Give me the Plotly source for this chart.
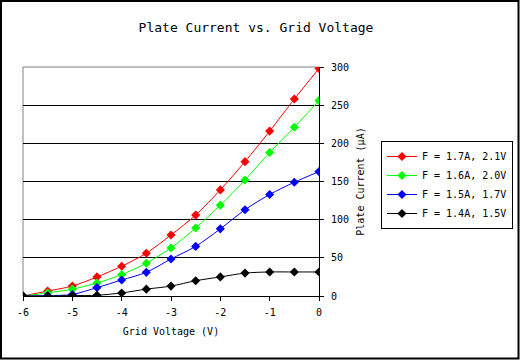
import plotly.graph_objects as go

grid_voltage = [-6, -5.5, -5, -4.5, -4, -3.5, -3, -2.5, -2, -1.5, -1, -0.5, 0]
series_names = ["F = 1.7A, 2.1V", "F = 1.6A, 2.0V", "F = 1.5A, 1.7V", "F = 1.4A, 1.5V"]
current_17A = [0, 6.5, 13, 25, 39, 56, 80, 106, 139, 176, 216, 258, 298]
current_16A = [0, 4, 9, 17, 28, 43, 63, 89, 119, 152, 188, 221, 256]
current_15A = [0, 0.5, 2, 11, 21, 31, 48.5, 65, 88, 113, 133, 149, 163]
current_14A = [0, 0, 0.5, 1, 4, 9, 13, 20, 25, 30, 31.5, 31.5, 31.5]
series_values = [current_17A, current_16A, current_15A, current_14A]
colors = ["#ff0000", "#00ff00", "#0000ff", "#000000"]
x_ticks = [-6, -5, -4, -3, -2, -1, 0]
y_ticks = [0, 50, 100, 150, 200, 250, 300]

FONT = "DejaVu Sans Mono"

fig = go.Figure()
for name, vals, col in zip(series_names, series_values, colors):
    fig.add_trace(go.Scatter(
        x=grid_voltage, y=vals, name=name, mode="lines+markers",
        line=dict(color=col, width=1, shape="spline", smoothing=0.8),
        marker=dict(symbol="diamond", size=7, color=col),
    ))

L, R, T, B = 23, 319, 67, 296
W, H = 520, 360
def px_x(p):
    return (p - L) / (R - L)
def px_y(p):
    return (B - p) / (B - T)

fig.update_layout(
    width=W, height=H, autosize=False,
    margin=dict(l=L, r=W - R, t=T, b=H - B, autoexpand=False),
    paper_bgcolor="white", plot_bgcolor="white",
    font=dict(family=FONT, size=10, color="black"),
    title=dict(text="Plate Current vs. Grid Voltage", x=256 / W, xanchor="center",
               y=1 - 27 / H, yanchor="middle", xref="container", yref="container",
               font=dict(family=FONT, size=13, color="black")),
    showlegend=True,
    legend=dict(x=px_x(381), xanchor="left", y=px_y(141), yanchor="top",
                bordercolor="black", borderwidth=1, bgcolor="white",
                font=dict(family=FONT, size=10, color="black"),
                tracegroupgap=0),
    xaxis=dict(range=[-6, 0], tickvals=x_ticks, ticktext=[str(v) for v in x_ticks],
               showline=True, linecolor="black", linewidth=1, ticks="outside",
               ticklen=4, tickcolor="black", showgrid=False, zeroline=False,
               ticklabelstandoff=3, automargin=False,
               title=dict(text="Grid Voltage (V)", font=dict(family=FONT, size=10), standoff=10),
               fixedrange=True),
    yaxis=dict(range=[0, 300], tickvals=y_ticks, side="right",
               showline=True, linecolor="black", linewidth=1, ticks="outside",
               ticklen=4, tickcolor="black", showgrid=True, gridcolor="black", gridwidth=1,
               zeroline=False, ticklabelstandoff=5, automargin=False,
               title=dict(text="Plate Current (\u03bcA)", font=dict(family=FONT, size=10), standoff=8),
               fixedrange=True),
)

# gray plot-area border on left and top
fig.add_shape(type="line", xref="paper", yref="paper", x0=0, x1=0, y0=0, y1=1,
              line=dict(color="#808080", width=1), layer="between")
fig.add_shape(type="line", xref="paper", yref="paper", x0=0, x1=1, y0=1, y1=1,
              line=dict(color="#808080", width=1), layer="between")
# outer frame
fig.add_shape(type="rect", xref="paper", yref="paper",
              x0=px_x(1), x1=px_x(518.5), y0=px_y(1), y1=px_y(358.5),
              line=dict(color="black", width=2), layer="above")

fig.write_html("out.html", config={"displayModeBar": False},
               post_script="document.body.style.margin='0';document.body.style.padding='0';")
